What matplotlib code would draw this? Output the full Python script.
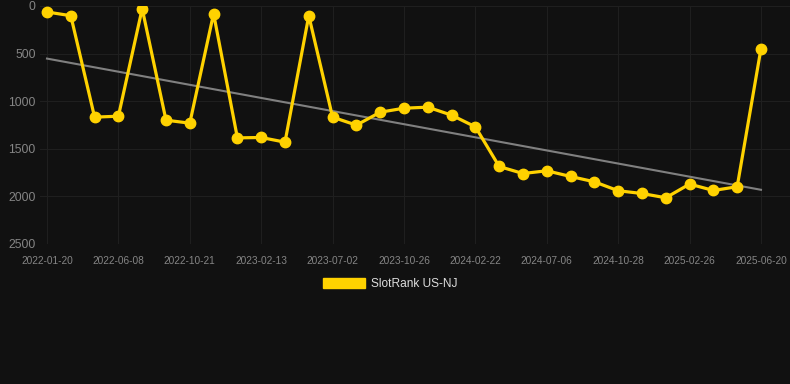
import numpy as np
from matplotlib import pyplot as plt
from matplotlib.patches import Patch

dates = ['2022-01-20','','','2022-06-08','','','2022-10-21','','','2023-02-13','','',
         '2023-07-02','','','2023-10-26','','','2024-02-22','','','2024-07-06','','',
         '2024-10-28','','','2025-02-26','','','2025-06-20']
rank = [63, 102, 1169, 1159, 28, 1201, 1232, 81, 1387, 1383, 1432, 102,
        1169, 1253, 1117, 1075, 1064, 1148, 1271, 1688, 1762, 1733, 1793, 1849,
        1943, 1972, 2017, 1873, 1940, 1901, 449]
trend = [553, 1933]
yticks = [0, 500, 1000, 1500, 2000, 2500]

bg = '#111111'
gold = '#ffd200'

fig = plt.figure(figsize=(7.9, 3.84), dpi=100, facecolor=bg)
ax = fig.add_axes([40/790, 1-243.7/384, 750/790, (243.7-6)/384])
ax.set_facecolor(bg)

x = np.arange(len(rank))
ax.plot([x[0], x[-1]], trend, color='#808080', lw=1.5, zorder=2)
ax.plot(x, rank, color=gold, lw=2.3, marker='o', ms=7.5, zorder=3)

ax.set_xlim(-0.294, 31.22)
ax.set_ylim(2500, 0)
tick_idx = [i for i in range(len(dates)) if dates[i]]
ax.set_xticks(tick_idx)
ax.set_xticklabels([dates[i] for i in tick_idx])
ax.set_yticks(yticks)
ax.grid(True, color='#1f1f1f', lw=0.8)
ax.set_axisbelow(True)
for s in ax.spines.values():
    s.set_visible(False)
ax.tick_params(axis='x', length=0, pad=9, labelsize=7.3, labelcolor='#858585')
ax.tick_params(axis='y', length=0, pad=3, labelsize=8.8, labelcolor='#858585')
for t in ax.get_xticklabels() + ax.get_yticklabels():
    t.set_fontfamily('Liberation Sans')

leg = fig.legend(handles=[Patch(facecolor=gold, edgecolor=gold)], labels=['SlotRank US-NJ'],
                 loc='center', bbox_to_anchor=(390/790, 1-284/384), frameon=False,
                 handlelength=3.5, handleheight=0.9, handletextpad=0.5,
                 prop={'family': 'Liberation Sans', 'size': 8.6})
for t in leg.get_texts():
    t.set_color('#dddddd')

fig.savefig('out.png', dpi=100, facecolor=bg)
